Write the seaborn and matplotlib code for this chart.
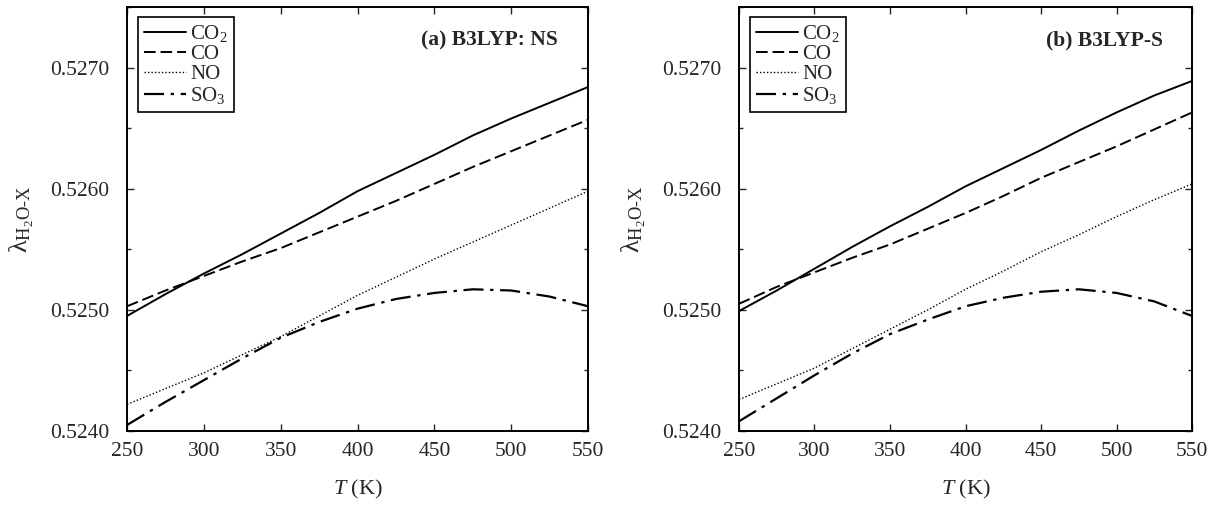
import numpy as np
import pandas as pd
import matplotlib.pyplot as plt
import seaborn as sns

# temperaturas (K)
T = [250, 275, 300, 325, 350, 375, 400, 425, 450, 475, 500, 525, 550]

# (a) B3LYP: NS  -- valores de lambda
a_co2 = [0.52495, 0.52513, 0.52530, 0.52546, 0.52563, 0.52580, 0.52598, 0.52613, 0.52628, 0.52644, 0.52658, 0.52671, 0.52684]
a_co = [0.52503, 0.52516, 0.52528, 0.52540, 0.52551, 0.52564, 0.52577, 0.52590, 0.52604, 0.52618, 0.52631, 0.52644, 0.52657]
a_no = [0.52422, 0.52435, 0.52448, 0.52463, 0.52478, 0.52495, 0.52512, 0.52527, 0.52542, 0.52556, 0.52570, 0.52584, 0.52598]
a_so3 = [0.52405, 0.52424, 0.52442, 0.52460, 0.52477, 0.52490, 0.52501, 0.52509, 0.52514, 0.52517, 0.52516, 0.52511, 0.52503]

# (b) B3LYP-S
b_co2 = [0.52499, 0.52516, 0.52534, 0.52552, 0.52569, 0.52585, 0.52602, 0.52617, 0.52632, 0.52648, 0.52663, 0.52677, 0.52689]
b_co = [0.52505, 0.52519, 0.52531, 0.52543, 0.52554, 0.52567, 0.52580, 0.52594, 0.52609, 0.52622, 0.52635, 0.52649, 0.52663]
b_no = [0.52426, 0.52439, 0.52452, 0.52468, 0.52484, 0.52500, 0.52517, 0.52532, 0.52548, 0.52562, 0.52577, 0.52591, 0.52604]
b_so3 = [0.52408, 0.52427, 0.52446, 0.52464, 0.52480, 0.52492, 0.52503, 0.52510, 0.52515, 0.52517, 0.52514, 0.52507, 0.52495]

especies = ['CO2', 'CO', 'NO', 'SO3']
rotulos = ['CO$_2$', 'CO', 'NO', 'SO$_3$']
titulos = ['(a) B3LYP: NS', '(b) B3LYP-S']


def montar(series):
    linhas = []
    for esp, vals in zip(especies, series):
        for t, v in zip(T, vals):
            linhas.append({'T': t, 'lam': v, 'esp': esp})
    return pd.DataFrame(linhas)


dfs = [montar([a_co2, a_co, a_no, a_so3]), montar([b_co2, b_co, b_no, b_so3])]

sns.set_theme(style='ticks')
plt.rcParams['font.family'] = ['Liberation Serif', 'DejaVu Serif']
plt.rcParams['mathtext.fontset'] = 'custom'
plt.rcParams['mathtext.rm'] = 'Liberation Serif'
plt.rcParams['mathtext.it'] = 'Liberation Serif:italic'
plt.rcParams['xtick.direction'] = 'in'
plt.rcParams['ytick.direction'] = 'in'

estilos = {'CO2': '', 'CO': (6, 2.5), 'NO': (1, 1.5), 'SO3': (9, 3, 1.5, 3)}
larguras = {'CO2': 1.4, 'CO': 1.4, 'NO': 1.0, 'SO3': 1.6}

fig = plt.figure(figsize=(12.17, 5.05), dpi=100)
posicoes = [[0.1044, 0.1465, 0.3788, 0.8395], [0.6072, 0.1465, 0.3723, 0.8395]]

for pos, df, titulo in zip(posicoes, dfs, titulos):
    ax = fig.add_axes(pos)
    for esp, rot in zip(especies, rotulos):
        sub = df[df['esp'] == esp]
        sns.lineplot(data=sub, x='T', y='lam', ax=ax, color='black',
                     lw=larguras[esp], dashes=False, label=rot)
        if estilos[esp]:
            ax.lines[-1].set_dashes(estilos[esp])
    ax.set_xlim(250, 550)
    ax.set_ylim(0.5240, 0.5275)
    ax.set_xticks(range(250, 551, 50))
    ax.set_yticks([0.5240, 0.5250, 0.5260, 0.5270])
    ax.set_yticklabels(['0.5240', '0.5250', '0.5260', '0.5270'])
    ax.set_yticks(np.arange(0.5240, 0.5276, 0.0005), minor=True)
    ax.tick_params(which='both', top=True, right=True, labelsize=15.5, width=1)
    ax.tick_params(which='major', length=5)
    ax.tick_params(which='minor', length=3)
    ax.tick_params(axis='x', pad=8)
    ax.tick_params(axis='y', pad=13)
    for s in ax.spines.values():
        s.set_linewidth(1.4)
        s.set_color('black')
    ax.set_xlabel('$T$ (K)', fontsize=16, labelpad=12)
    ax.set_ylabel('λ$_{\\mathrm{H_2O\\text{-}X}}$', fontsize=19, labelpad=10)
    ax.text(0.935, 0.922, titulo, transform=ax.transAxes, ha='right', va='center',
            fontsize=15.5, fontweight='bold')
    leg = ax.legend(loc='upper left', bbox_to_anchor=(0.024, 0.976), fontsize=15,
                    frameon=True, fancybox=False, edgecolor='black', framealpha=1,
                    handlelength=2.0, handletextpad=0.2, labelspacing=0.02,
                    borderpad=0.3, borderaxespad=0)
    leg.get_frame().set_linewidth(1.2)

fig.savefig('out.png', dpi=100)
